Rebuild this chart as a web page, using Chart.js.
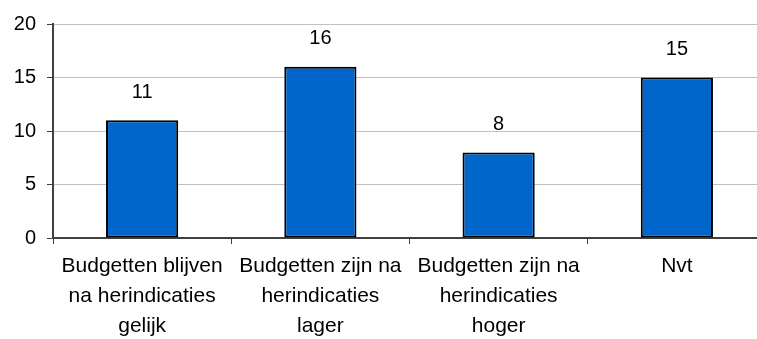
<!DOCTYPE html>
<html>
<head>
<meta charset="utf-8">
<script src="https://cdn.jsdelivr.net/npm/chart.js@4/dist/chart.umd.min.js"></script>
<style>
  html, body { margin: 0; padding: 0; background: #fff; overflow: hidden; }
  #wrap { width: 766px; height: 339px; position: relative; }
</style>
</head>
<body>
<div id="wrap"><canvas id="myChart"></canvas></div>
<script>
// categorieen (meerdere regels per label)
const categories = [
  ["Budgetten blijven", "na herindicaties", "gelijk"],
  ["Budgetten zijn na", "herindicaties", "lager"],
  ["Budgetten zijn na", "herindicaties", "hoger"],
  ["Nvt"],
];
const aantallen = [11, 16, 8, 15];
const yTicks = [0, 5, 10, 15, 20];

const FONT = "'Liberation Sans', Arial, sans-serif";

// waarden boven de staven tekenen
const valueLabels = {
  id: "valueLabels",
  afterDatasetsDraw(chart) {
    const ctx = chart.ctx;
    const meta = chart.getDatasetMeta(0);
    ctx.save();
    ctx.font = "20px " + FONT;
    ctx.fillStyle = "#000";
    ctx.textAlign = "center";
    ctx.textBaseline = "middle";
    meta.data.forEach((bar, i) => {
      ctx.fillText(String(aantallen[i]), bar.x, bar.y - 28);
    });
    ctx.restore();
  },
};

const ctx = document.getElementById("myChart").getContext("2d");
const myChart = new Chart(ctx, {
  type: "bar",
  data: {
    labels: categories,
    datasets: [
      {
        data: aantallen,
        backgroundColor: "#0066cc",
        borderColor: "#000000",
        borderWidth: 2,
        borderSkipped: false,
        categoryPercentage: 0.81,
        barPercentage: 0.5,
      },
    ],
  },
  options: {
    responsive: true,
    maintainAspectRatio: false,
    animation: false,
    layout: { padding: { top: 24, left: 0, right: 0, bottom: 0 } },
    plugins: {
      legend: { display: false },
      tooltip: { enabled: false },
    },
    scales: {
      x: {
        offset: true,
        grid: {
          offset: true,
          drawOnChartArea: false,
          drawTicks: true,
          tickLength: 6,
          color: "#404040",
        },
        border: { color: "#404040", width: 2 },
        ticks: {
          color: "#000",
          font: { family: FONT, size: 21, lineHeight: 1.43 },
          padding: 7,
          maxRotation: 0,
          autoSkip: false,
        },
        afterFit(scale) {
          scale.height = 101;
        },
      },
      y: {
        min: 0,
        max: 20,
        afterBuildTicks(scale) {
          scale.ticks = yTicks.map((v) => ({ value: v }));
        },
        grid: {
          color: "#c0c0c0",
          tickColor: "#404040",
          tickLength: 6,
        },
        border: { color: "#404040", width: 2 },
        ticks: {
          color: "#000",
          font: { family: FONT, size: 20 },
          padding: 11,
        },
        afterFit(scale) {
          scale.width = 53;
        },
      },
    },
  },
  plugins: [valueLabels],
});
</script>
</body>
</html>
